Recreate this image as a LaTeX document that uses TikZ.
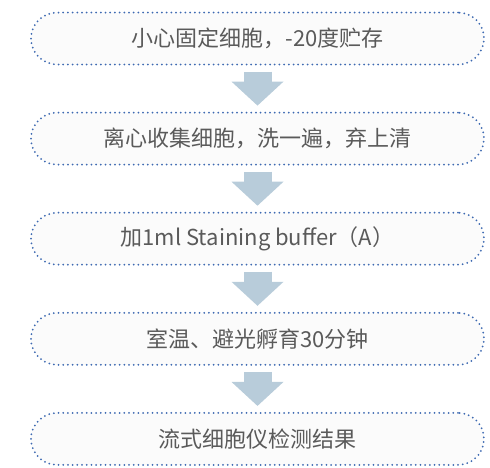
\documentclass[tikz,border=0pt]{standalone}
\usepackage{fontspec}
\usepackage{xcolor}
\usepackage{tikz}
\usetikzlibrary{arrows.meta}
\newfontfamily\cjk{Noto Sans CJK SC}
\definecolor{dotblue}{RGB}{62,106,178}
\definecolor{arrowgray}{RGB}{184,204,218}
\definecolor{textgray}{RGB}{90,90,90}

\tikzset{
  stepbox/.style={draw=dotblue, line width=2pt, line cap=round,
    dash pattern=on 0pt off 4.7pt, fill=gray!3, rounded corners=26pt,
    minimum width=453pt, minimum height=52pt, inner sep=0pt,
    text=textgray, font=\cjk\fontsize{22}{26}\selectfont},
  flowarrow/.style={arrowgray, line width=28pt,
    -{Triangle[width=52pt,length=24pt,line width=0pt]}}
}

\begin{document}
\begin{tikzpicture}[x=1pt,y=-1pt]
\useasboundingbox (0,0) rectangle (490,467);
\foreach \i/\t in {1/{小心固定细胞，-20度贮存},
                   2/{离心收集细胞，洗一遍，弃上清},
                   3/{加1ml Staining buffer（A）},
                   4/{室温、避光孵育30分钟},
                   5/{流式细胞仪检测结果}}
\node[stepbox] (s\i) at (257.5, 38.5+100.1*\i-100.1) {\t};
\foreach \i [evaluate=\i as \j using int(\i+1)] in {1,2,3,4}
\draw[flowarrow] ([yshift=-6pt]s\i.south) -- ([yshift=6pt]s\j.north);
\end{tikzpicture}
\end{document}
